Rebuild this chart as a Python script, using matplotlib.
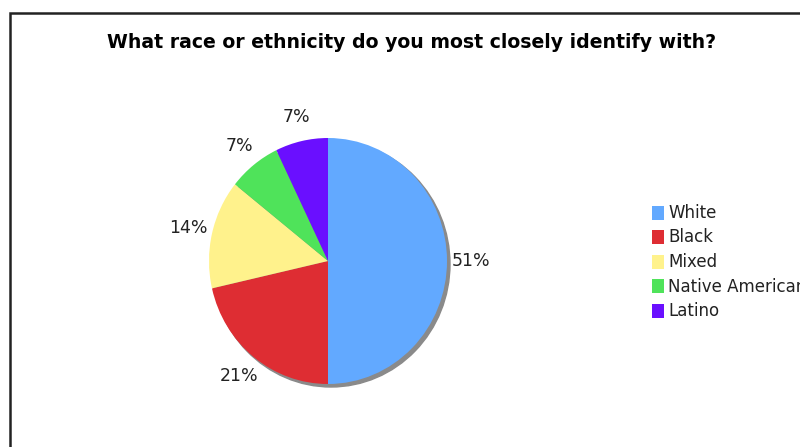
import numpy as np
import matplotlib
matplotlib.use("Agg")
from matplotlib import pyplot as plt
from matplotlib.patches import Rectangle, Ellipse

# data
categories = ["White", "Black", "Mixed", "Native American", "Latino"]
counts = [7, 3, 2, 1, 1]
pct_labels = ["51%", "21%", "14%", "7%", "7%"]
colors = ["#62A9FF", "#DE2D33", "#FFF28C", "#4FE35A", "#6A0FFF"]
title = "What race or ethnicity do you most closely identify with?"

W, H = 800, 447
fig = plt.figure(figsize=(W / 100, H / 100), dpi=100)

# frame around the chart (runs off the right and bottom edge)
fig.patches.append(Rectangle((10 / W, -0.05), 1.1, (H - 12.5) / H + 0.05,
                             transform=fig.transFigure, fill=False,
                             edgecolor="#222222", linewidth=1.8))

fig.text(412 / W, 1 - 42 / H, title, ha="center", va="center",
         fontsize=13.6, fontweight="bold", color="black")

# pie axes, centre at (328, 262) px, radius 119 x 123 px
cx, cy, rx, ry = 328, 261, 119, 123
aw, ah = 400, 360
ax = fig.add_axes([(cx - aw / 2) / W, (H - cy - ah / 2) / H, aw / W, ah / H])

ax.add_patch(Ellipse((3 / rx, -3 / ry), 2, 2, color="#8a8a8a", zorder=0))
wedges, texts = ax.pie(counts, colors=colors, startangle=90, counterclock=False,
                       labels=pct_labels, labeldistance=1.2,
                       textprops=dict(fontsize=12.5, color="#222222"),
                       wedgeprops=dict(linewidth=0))
for t in texts:
    t.set_ha("center")
    t.set_va("center")
ax.set_xlim(-aw / 2 / rx, aw / 2 / rx)
ax.set_ylim(-ah / 2 / ry, ah / 2 / ry)
ax.set_aspect("auto")
ax.axis("off")

# legend drawn by hand: squares + labels
lx, ly0, step = 652, 212.5, 24.5
for i, (name, c) in enumerate(zip(categories, colors)):
    y = ly0 + i * step
    fig.patches.append(Rectangle((lx / W, 1 - (y + 7) / H), 12 / W, 14 / H,
                                 transform=fig.transFigure, facecolor=c,
                                 edgecolor="none"))
    fig.text((lx + 16) / W, 1 - (y + 0.5) / H, name, ha="left", va="center",
             fontsize=12, color="#222222")

fig.savefig("out.png", dpi=100)
